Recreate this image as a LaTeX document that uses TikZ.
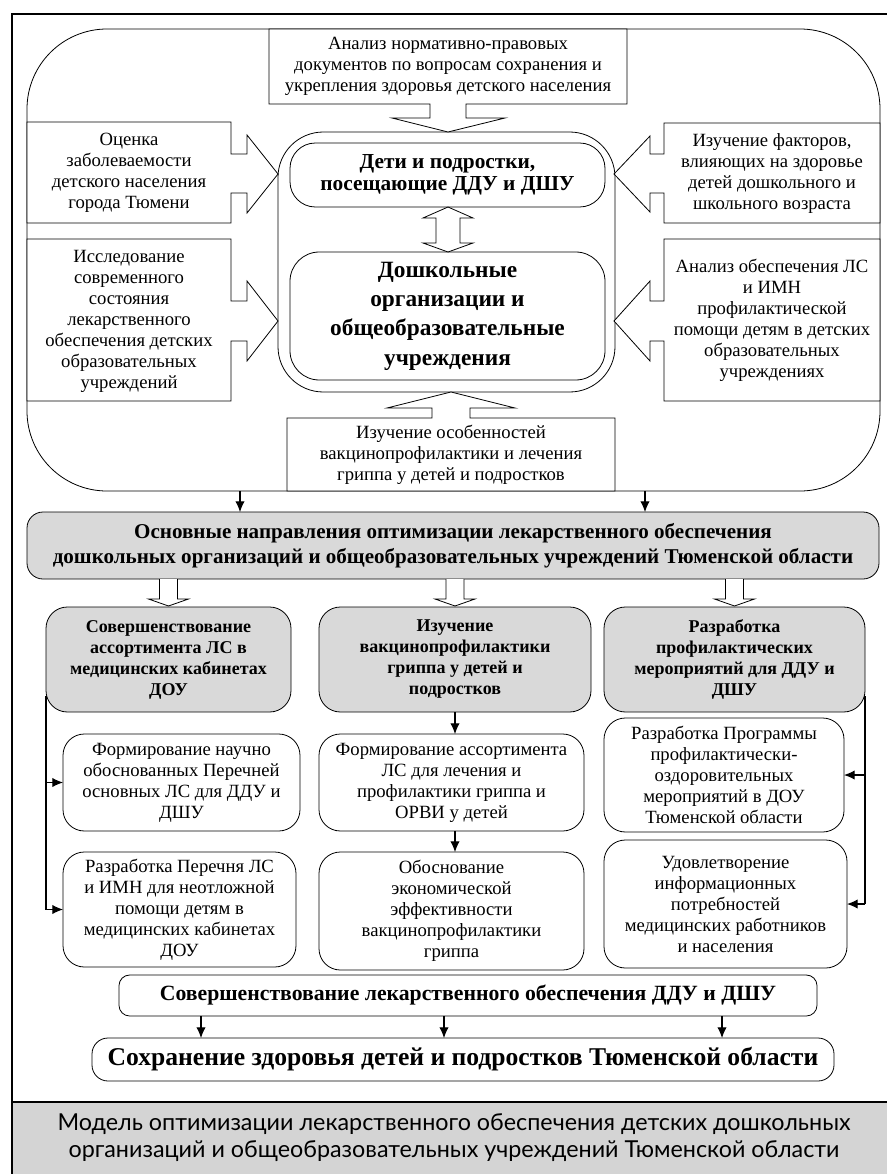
\documentclass[tikz,border=0pt]{standalone}
\usepackage{fontspec}
\setmainfont{Liberation Serif}
\newfontfamily\capfont{Lato}
\usetikzlibrary{calc,arrows.meta}
\tikzset{%
  >={Latex[length=8pt,width=7pt]}, % filled arrow tips
  every node/.style={inner sep=0pt,outer sep=0pt},%
  txt/.style={font=\fontsize{14}{15.75}\selectfont,align=center},%
  txtb/.style={font=\fontsize{13.5}{15.75}\selectfont\bfseries,align=center},%
  outline/.style={draw,line width=0.6pt},%
  rbox/.style={outline,fill=white,rounded corners=16pt,txt},%
  gbox/.style={rbox,fill=gray!30,txtb},%
  conn/.style={->,line width=0.8pt},%
  frame/.style={line width=1.5pt},%
  hollow down/.pic={\draw[line width=0.6pt,fill=white]
    (-9,0) -- (-9,20) -- (-20,20) -- (0,27) -- (20,20) -- (9,20) -- (9,0);}%
}

\begin{document}
\begin{tikzpicture}[x=0.75pt,y=-0.75pt] % MODEL

\useasboundingbox (0,0) rectangle (887,1174);

% frame and caption band
\fill[gray!34] (12,1102) rectangle (887,1174);
\draw[frame] (12,1174) -- (12,14) -- (887,14);
\draw[frame] (12,1102) -- (887,1102);
\node[font=\capfont\fontsize{17.5}{20.25}\selectfont,align=center] (caption) at (454,1138)
  {Модель оптимизации лекарственного обеспечения детских дошкольных\\
   организаций и общеобразовательных учреждений Тюменской области};

% upper field
\node[outline,rounded corners=60pt,minimum width=639.75pt,minimum height=346.5pt] (field) at (453.5,260) {};
\node[outline,fill=white,rounded corners=34pt,minimum width=252.75pt,minimum height=195pt] (core) at (446.5,262) {};
\node[rbox,rounded corners=19pt,minimum width=236.25pt,minimum height=48pt,
  font=\fontsize{16}{16.5}\selectfont\bfseries] (kids) at (447.5,175)
  {Дети и подростки,\\посещающие ДДУ и ДШУ};
\node[rbox,rounded corners=22pt,minimum width=236.25pt,minimum height=96pt,
  font=\fontsize{17.5}{22}\selectfont\bfseries] (schools) at (447.5,316)
  {Дошкольные\\организации и\\общеобразовательные\\учреждения};
\draw[outline,fill=white] (448,207) -- (473,218) -- (460,218) -- (460,243) -- (473,243) -- (448,252)
  -- (423,243) -- (436,243) -- (436,218) -- (423,218) -- cycle;

% boxes pointing to the core
\draw[outline,fill=white] (269,29) -- (627,29) -- (627,104) -- (466,104) -- (466,118) -- (505,118)
  -- (448,132) -- (392,118) -- (430,118) -- (430,104) -- (269,104) -- cycle;
\node[txt] (norms) at (448,66.5) {Анализ нормативно-правовых\\документов по вопросам сохранения и\\укрепления здоровья детского населения};

\draw[outline,fill=white] (27,122) -- (231,122) -- (231,154) -- (247,154) -- (247,135) -- (278,174)
  -- (247,213) -- (247,193) -- (231,193) -- (231,223) -- (27,223) -- cycle;
\node[txt] (morb) at (129,173) {Оценка\\заболеваемости\\детского населения\\города Тюмени};

\draw[outline,fill=white] (27,239) -- (231,239) -- (231,301) -- (247,301) -- (247,281) -- (278,321)
  -- (247,361) -- (247,341) -- (231,341) -- (231,401) -- (27,401) -- cycle;
\node[txt] (supply) at (129,321) {Исследование\\современного\\состояния\\лекарственного\\обеспечения детских\\образовательных\\учреждений};

\draw[outline,fill=white] (880,123) -- (664,123) -- (664,154) -- (650,154) -- (650,136) -- (614,174)
  -- (650,212) -- (650,193) -- (664,193) -- (664,223) -- (880,223) -- cycle;
\node[txt] (factors) at (772,174) {Изучение факторов,\\влияющих на здоровье\\детей дошкольного и\\школьного возраста};

\draw[outline,fill=white] (880,239) -- (664,239) -- (664,301) -- (650,301) -- (650,281) -- (614,321)
  -- (650,361) -- (650,341) -- (664,341) -- (664,401) -- (880,401) -- cycle;
\node[txt] (prevent) at (772,320.5) {Анализ обеспечения ЛС\\и ИМН\\профилактической\\помощи детям в детских\\образовательных\\учреждениях};

\draw[outline,fill=white] (287,491) -- (287,418) -- (432,418) -- (432,408) -- (387,408) -- (451,392)
  -- (515,408) -- (470,408) -- (470,418) -- (615,418) -- (615,491) -- cycle;
\node[txt] (vacc) at (451,455) {Изучение особенностей\\вакцинопрофилактики и лечения\\гриппа у детей и подростков};

% main directions
\node[gbox,rounded corners=12pt,minimum width=639pt,minimum height=50.25pt,
  font=\fontsize{15.8}{18.75}\selectfont\bfseries] (main) at (453,545.5)
  {Основные направления оптимизации лекарственного обеспечения\\дошкольных организаций и общеобразовательных учреждений Тюменской области};
\foreach \f [count=\i] in {0.2497,0.7245}{
  \coordinate (f\i) at ($(field.south west)!\f!(field.south east)$);
  \draw[conn] (f\i) -- (f\i |- main.north);
}

\node[gbox,minimum width=183.75pt,minimum height=78.75pt] (grA) at (168.5,659.5)
  {Совершенствование\\ассортимента ЛС в\\медицинских кабинетах\\ДОУ};
\node[gbox,minimum width=204pt,minimum height=78.75pt] (grB) at (455,659.5)
  {Изучение\\вакцинопрофилактики\\гриппа у детей и\\подростков};
\node[gbox,minimum width=195.75pt,minimum height=78.75pt] (grC) at (734.5,659.5)
  {Разработка\\профилактических\\мероприятий для ДДУ и\\ДШУ};
\foreach \n in {grA,grB,grC}
  \pic at (main.south -| \n.north) {hollow down};

% tasks
\node[rbox,minimum width=177.75pt,minimum height=72.75pt] (L1) at (181.5,782.5)
  {Формирование научно\\обоснованных Перечней\\основных ЛС для ДДУ и\\ДШУ};
\node[rbox,minimum width=174.75pt,minimum height=86.25pt] (L2) at (179.5,909.5)
  {Разработка Перечня ЛС\\и ИМН для неотложной\\помощи детям в\\медицинских кабинетах\\ДОУ};
\node[rbox,minimum width=198.75pt,minimum height=72.75pt] (M1) at (451.5,782.5)
  {Формирование ассортимента\\ЛС для лечения и\\профилактики гриппа и\\ОРВИ у детей};
\node[rbox,minimum width=198.75pt,minimum height=88.5pt] (M2) at (451.5,911)
  {Обоснование\\экономической\\эффективности\\вакцинопрофилактики\\гриппа};
\node[rbox,minimum width=180pt,minimum height=85.5pt] (R1) at (724,775)
  {Разработка Программы\\профилактически-\\оздоровительных\\мероприятий в ДОУ\\Тюменской области};
\node[rbox,minimum width=182.25pt,minimum height=96pt] (R2) at (725.5,904)
  {Удовлетворение\\информационных\\потребностей\\медицинских работников\\и населения};

\coordinate (sA) at ([yshift=12pt]grA.south west);
\draw[line width=0.8pt] (sA) -- (sA |- L2.west);
\draw[conn] (sA |- L1.west) -- (L1.west);
\draw[conn] (sA |- L2.west) -- (L2.west);
\draw[conn] (grB.south) -- (grB.south |- M1.north);
\draw[conn] (grB.south |- M1.south) -- (grB.south |- M2.north);
\coordinate (sC) at ([yshift=12pt]grC.south east);
\draw[line width=0.8pt] (sC) -- (sC |- R2.east);
\draw[conn] (sC |- R1.east) -- (R1.east);
\draw[conn] (sC |- R2.east) -- (R2.east);

% results
\node[rbox,rounded corners=8pt,minimum width=523.5pt,minimum height=30.75pt,
  font=\fontsize{16.3}{18}\selectfont\bfseries] (impr) at (468,995.5)
  {Совершенствование лекарственного обеспечения ДДУ и ДШУ};
\node[rbox,rounded corners=12pt,minimum width=556.5pt,minimum height=32.25pt,
  font=\fontsize{19.2}{20}\selectfont\bfseries] (final) at (463,1059.5)
  {Сохранение здоровья детей и подростков Тюменской области};
\foreach \f [count=\i] in {0.1175,0.4656,0.8639}{
  \coordinate (s\i) at ($(impr.south west)!\f!(impr.south east)$);
  \draw[conn] (s\i) -- (s\i |- final.north);
}

\end{tikzpicture}
\end{document}
